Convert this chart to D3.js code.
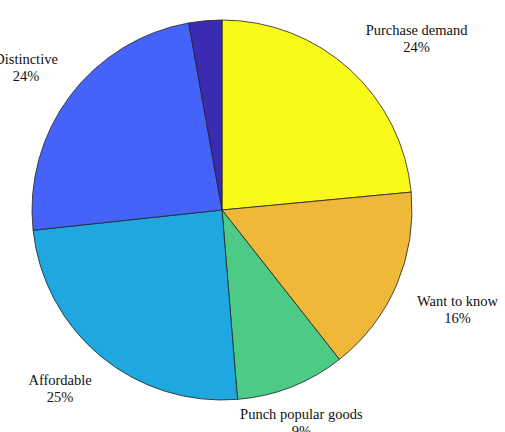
<!DOCTYPE html>
<html>
<head>
<meta charset="utf-8">
<script src="https://cdn.jsdelivr.net/npm/d3@7/dist/d3.min.js"></script>
<style>
  html, body { margin: 0; padding: 0; background: #fff; }
  svg { display: block; }
</style>
</head>
<body>
<svg id="chart" width="505" height="432"></svg>
<script>
// ---- data (clockwise from 12 o'clock) ----
const categories = ["Purchase demand", "Want to know", "Punch popular goods", "Affordable", "Distinctive", ""];
const values = [23.5, 15.9, 9.3, 24.6, 23.9, 2.8];
const percentLabels = ["24%", "16%", "9%", "25%", "24%", ""];
const colors = ["#f9f91a", "#efb839", "#4dca86", "#1fa7e0", "#4563fa", "#3b2bb2"];

const W = 505, H = 432;
const cx = 222, cy = 210, R = 190;
const fontFamily = "'Liberation Serif', 'Times New Roman', serif";
const fontSize = 14.5, lineH = 17;

const svg = d3.select("#chart");
const g = svg.append("g").attr("transform", `translate(${cx},${cy})`);

const data = categories.map((c, i) => ({ name: c, value: values[i], pct: percentLabels[i], color: colors[i] }));

const pie = d3.pie().sort(null).value(d => d.value).startAngle(0).endAngle(2 * Math.PI);
const arc = d3.arc().innerRadius(0).outerRadius(R);
const arcs = pie(data);

g.selectAll("path.slice")
  .data(arcs)
  .join("path")
  .attr("class", "slice")
  .attr("d", arc)
  .attr("fill", d => d.data.color)
  .attr("stroke", "#222")
  .attr("stroke-width", 0.8)
  .attr("stroke-linejoin", "round");

// ---- labels (MATLAB-style placement) ----
const labelR = R * 1.1;
const labelDx = 3;
arcs.forEach(a => {
  if (!a.data.name) return;
  const th = (a.startAngle + a.endAngle) / 2;
  const s = Math.sin(th), c = Math.cos(th);
  const px = labelR * s + labelDx;
  const py = -labelR * c;
  const lines = [a.data.name, a.data.pct];
  const t = g.append("text")
    .attr("font-family", fontFamily)
    .attr("font-size", fontSize)
    .attr("fill", "#111")
    .attr("text-anchor", "middle");
  const spans = lines.map(l => t.append("tspan").text(l));
  const wMax = d3.max(spans, sp => sp.node().getComputedTextLength());
  let bx;
  if (Math.abs(s) < 0.5) bx = px;
  else if (s > 0) bx = px + wMax / 2;
  else bx = px - wMax / 2;
  let firstBase;
  if (c > 0) firstBase = py - 3.5 - (lines.length - 1) * lineH;
  else firstBase = py + 14;
  spans.forEach((sp, i) => sp.attr("x", bx).attr("y", firstBase + i * lineH));
});
</script>
</body>
</html>
